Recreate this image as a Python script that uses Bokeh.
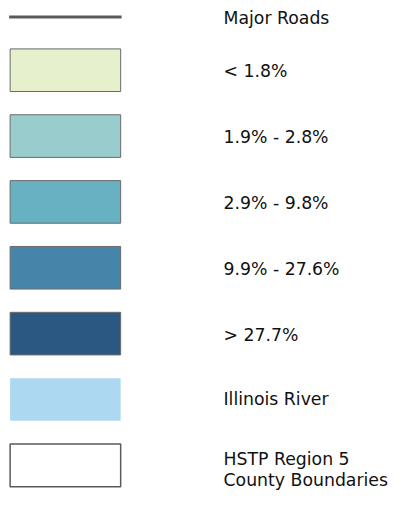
from bokeh.plotting import figure
from bokeh.models import Range1d, ColumnDataSource
from bokeh.core.properties import value
from bokeh.embed import file_html
from bokeh.resources import INLINE

# Legend content
road_label = "Major Roads"
class_labels = ["< 1.8%", "1.9% - 2.8%", "2.9% - 9.8%", "9.9% - 27.6%", "> 27.7%"]
class_colors = ["#e6f0cc", "#99cccc", "#68b1c3", "#4685a9", "#2b5882"]
river_label = "Illinois River"
river_color = "#add8f2"
boundary_label = ["HSTP Region 5", "County Boundaries"]

W, H = 397, 490
p = figure(width=W, height=H, output_backend="svg", toolbar_location=None,
           x_range=Range1d(0, 413), y_range=Range1d(506, 0),
           min_border=0)
p.axis.visible = False
p.grid.visible = False
p.outline_line_color = None
p.background_fill_color = "white"

STEP = 68
def row_y(k):
    return 4 + STEP * k

BOX_L, BOX_R, HALF = 10, 125, 22
TEXT_X = 232
FONT = value("DejaVu Sans")
FS = "17.3px"

# Major roads line
p.line([9, 126], [17, 17], line_color="#5a5a5a", line_width=3)
p.text([TEXT_X], [18], text=[road_label], text_font=FONT, text_font_size=FS,
       text_baseline="middle", text_color="#111111")

# Classes
ks = list(range(1, len(class_labels) + 1))
src = ColumnDataSource(dict(
    left=[BOX_L] * len(ks), right=[BOX_R] * len(ks),
    top=[row_y(k) - HALF for k in ks], bottom=[row_y(k) + HALF for k in ks],
    color=class_colors, label=class_labels,
    x=[TEXT_X] * len(ks), y=[row_y(k) + 1 for k in ks]))
p.quad(left="left", right="right", top="top", bottom="bottom", source=src,
       fill_color="color", line_color="#6a6a6a", line_width=1)
p.text(x="x", y="y", text="label", source=src, text_font=FONT, text_font_size=FS,
       text_baseline="middle", text_color="#111111")

# River
kr = len(class_labels) + 1
p.quad(left=[BOX_L], right=[BOX_R], top=[row_y(kr) - HALF], bottom=[row_y(kr) + HALF],
       fill_color=river_color, line_color=None)
p.text([TEXT_X], [row_y(kr) - 1], text=[river_label], text_font=FONT, text_font_size=FS,
       text_baseline="middle", text_color="#111111")

# Boundaries
kb = kr + 1
p.quad(left=[BOX_L], right=[BOX_R], top=[row_y(kb) - HALF], bottom=[row_y(kb) + HALF],
       fill_color="white", line_color="#5a5a5a", line_width=1.5)
p.text([TEXT_X, TEXT_X], [row_y(kb) - 7, row_y(kb) + 15], text=boundary_label,
       text_font=FONT, text_font_size=FS, text_baseline="middle", text_color="#111111")

open("out.html", "w").write(file_html(p, INLINE))
